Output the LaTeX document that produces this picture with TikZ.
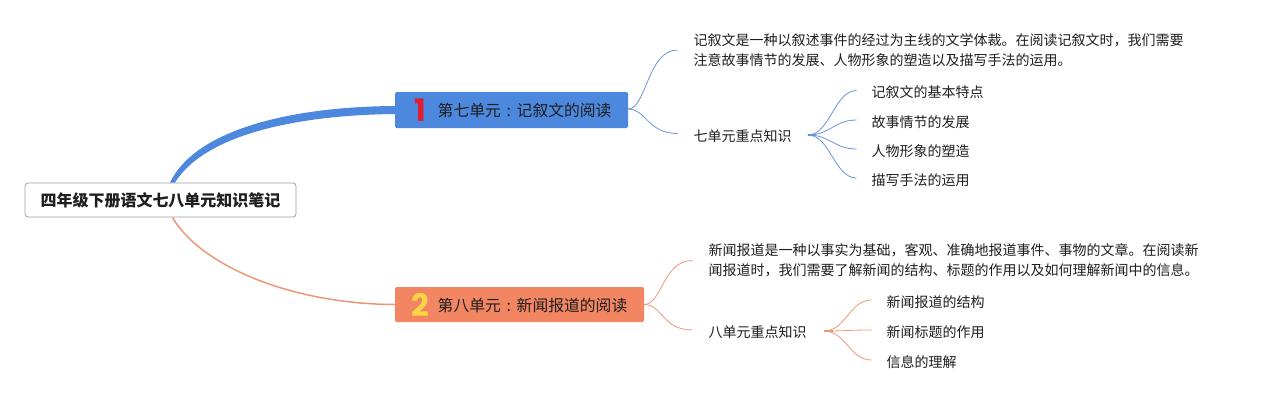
\documentclass[tikz,border=0pt]{standalone}
\usepackage{fontspec}
\setmainfont{Noto Sans CJK SC}
\newfontfamily\numfont{Poppins}
\usetikzlibrary{calc,backgrounds}
\definecolor{blue7}{RGB}{76,136,221}
\definecolor{bline}{RGB}{105,148,214}
\definecolor{orange8}{RGB}{243,134,98}
\definecolor{oline}{RGB}{238,150,120}
\definecolor{red7}{RGB}{222,30,50}
\definecolor{yellow8}{RGB}{250,214,70}
\definecolor{rootborder}{RGB}{160,160,160}
\definecolor{txt}{RGB}{30,30,30}
\newcommand{\fwcolon}{\makebox[1em][c]{:}}
\begin{document}
\begin{tikzpicture}[x=1pt,y=-1pt,
  rootbox/.style={draw=rootborder, line width=0.8pt, rounded corners=3pt, fill=white, minimum width=271pt, minimum height=34pt, inner sep=0pt, font=\fontsize{16}{18}\selectfont\bfseries, text=txt},
  unitbox/.style={minimum height=35pt, inner sep=0pt, rounded corners=1.5pt},
  numtxt/.style={inner sep=0pt, anchor=west, font=\numfont\bfseries\fontsize{31}{31}\selectfont},
  titletxt/.style={inner sep=0pt, anchor=west, text=txt, font=\fontsize{15.8}{18}\selectfont},
  small/.style={inner sep=0pt, anchor=west, text=txt, font=\fontsize{14}{20}\selectfont, align=left},
  blink/.style={draw=bline, line width=0.8pt},
  olink/.style={draw=oline, line width=0.8pt},
]
\useasboundingbox (0,0) rectangle (1269,400);

% root
\node[rootbox] (root) at (160.5,200) {四年级下册语文七八单元知识笔记};

% unit boxes
\node[unitbox, fill=blue7, minimum width=233pt, minimum height=36pt] (u7) at (511.5,110) {};
\node[numtxt, text=red7] (n7) at (414,110) {1};
\node[titletxt] (t7) at (437.5,110.5) {第七单元\fwcolon 记叙文的阅读};
\node[unitbox, fill=orange8, minimum width=249pt, minimum height=35pt] (u8) at (519.5,304.5) {};
\node[numtxt, text=yellow8] (n8) at (411,305) {2};
\node[titletxt] (t8) at (437.5,305.5) {第八单元\fwcolon 新闻报道的阅读};

% unit 7 children
\node[small] (d7) at (693.5,50) {记叙文是一种以叙述事件的经过为主线的文学体裁。在阅读记叙文时，我们需要\\注意故事情节的发展、人物形象的塑造以及描写手法的运用。};
\node[small] (k7) at (693.5,136.5) {七单元重点知识};
\node[small] (l71) at (871.5,92.5) {记叙文的基本特点};
\node[small] (l72) at (871.5,122) {故事情节的发展};
\node[small] (l73) at (871.5,151) {人物形象的塑造};
\node[small] (l74) at (871.5,180) {描写手法的运用};

% unit 8 children
\node[small] (d8) at (708.5,260.5) {新闻报道是一种以事实为基础，客观、准确地报道事件、事物的文章。在阅读新\\闻报道时，我们需要了解新闻的结构、标题的作用以及如何理解新闻中的信息。};
\node[small] (k8) at (708.5,332) {八单元重点知识};
\node[small] (l81) at (886.5,302) {新闻报道的结构};
\node[small] (l82) at (886.5,332) {新闻标题的作用};
\node[small] (l83) at (886.5,362) {信息的理解};

% coordinates
\coordinate (s7) at ($(u7.east)+(0,-1)$);
\coordinate (e7a) at ($(d7.west)+(-16,0)$);
\coordinate (e7b) at ($(k7.west)+(-16,-3)$);
\coordinate (h7a) at ($(k7.east)+(16,-1.5)$);
\coordinate (h7) at ($(k7.east)+(24,-1.5)$);
\coordinate (e71) at ($(l71.west)+(-15,-2)$);
\coordinate (e72) at ($(l72.west)+(-15,-2)$);
\coordinate (e73) at ($(l73.west)+(-15,-2)$);
\coordinate (e74) at ($(l74.west)+(-15,-2)$);

\coordinate (s8) at (u8.east);
\coordinate (e8a) at ($(d8.west)+(-16,0)$);
\coordinate (e8b) at ($(k8.west)+(-16,-2)$);
\coordinate (h8a) at ($(k8.east)+(17,-1)$);
\coordinate (h8) at ($(k8.east)+(26,-1)$);
\coordinate (e81) at ($(l81.west)+(-15,-2)$);
\coordinate (e82) at ($(l82.west)+(-15,-2)$);
\coordinate (e83) at ($(l83.west)+(-15,-2)$);

\begin{scope}[on background layer]
  % main branches
  \fill[blue7] ($(root.north)+(9.5,0)$) .. controls (195,130) and (290,106.5) .. ($(u7.west)+(1,-4)$)
     -- ($(u7.west)+(1,4)$) .. controls (290,115) and (203,137) .. ($(root.north)+(14.5,0)$) -- cycle;
  \draw[olink, line width=1.5pt] ($(root.south)+(12,0)$) .. controls (200,265) and (290,304) .. (u8.west);

  % unit 7 links
  \draw[blink] (s7) .. controls +(18,0) and +(-30,0) .. (e7a);
  \draw[blink] (s7) .. controls +(18,0) and +(-30,0) .. (e7b);
  \draw[blink, line width=2.5pt] (h7a) -- (h7);
  \foreach \e in {e71,e72,e73,e74}
    \draw[blink] (h7a) .. controls +(22,0) and +(-22,0) .. (\e);

  % unit 8 links
  \draw[olink] (s8) .. controls +(18,0) and +(-30,0) .. (e8a);
  \draw[olink] (s8) .. controls +(18,0) and +(-30,0) .. (e8b);
  \draw[olink, line width=2.5pt] (h8a) -- (h8);
  \foreach \e in {e81,e82,e83}
    \draw[olink] (h8a) .. controls +(22,0) and +(-22,0) .. (\e);
\end{scope}
\end{tikzpicture}
\end{document}
